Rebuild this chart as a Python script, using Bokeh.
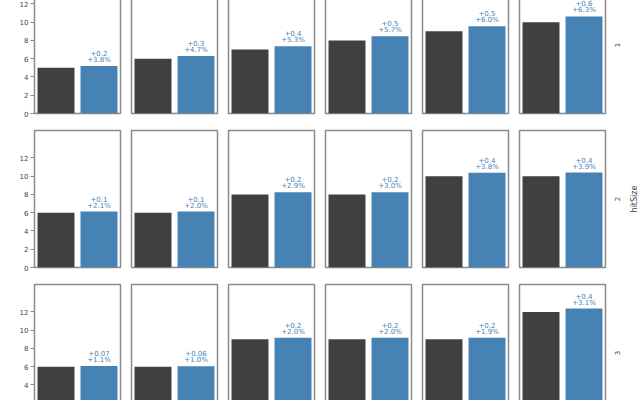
from bokeh.plotting import figure
from bokeh.layouts import gridplot
from bokeh.models import FactorRange, Range1d, FixedTicker
from bokeh.core.properties import value
from bokeh.embed import file_html
from bokeh.resources import INLINE

# ---- data ----
row_labels = ["1", "2", "3"]          # hitSize facet
facet_title = "hitSize"
series = ["before", "after"]
base_values = [
    [5, 6, 7, 8, 9, 10],
    [6, 6, 8, 8, 10, 10],
    [6, 6, 9, 9, 9, 12],
]
pct_change = [
    [3.8, 4.7, 5.3, 5.7, 6.0, 6.3],
    [2.1, 2.0, 2.9, 3.0, 3.8, 3.9],
    [1.1, 1.0, 2.0, 2.0, 1.9, 3.1],
]
y_ticks = [0, 2, 4, 6, 8, 10, 12]
y_max = 15

# ---- style ----
FONT = "DejaVu Sans"
DARK = "#404040"
BLUE = "#4682b4"
BORDER = "#8a8a8a"
TEXT = "#444444"
FW, FH = 86, 137

rows = []
for r, (bases, pcts) in enumerate(zip(base_values, pct_change)):
    row = []
    for c, (b, pc) in enumerate(zip(bases, pcts)):
        new = b * (1 + pc / 100.0)
        delta = new - b
        p = figure(
            x_range=FactorRange(factors=series, range_padding=0),
            y_range=Range1d(0, y_max),
            frame_width=FW, frame_height=FH,
            min_border_left=34 if c == 0 else 6, min_border_right=5,
            min_border_top=8, min_border_bottom=9,
            x_axis_location=None,
            y_axis_location="left" if c == 0 else None,
            toolbar_location=None, output_backend="svg",
        )
        p.xgrid.visible = False
        p.ygrid.visible = False
        p.outline_line_color = BORDER
        p.outline_line_width = 1.5
        p.background_fill_color = "white"
        p.border_fill_color = "white"
        if c == 0:
            ax = p.yaxis[0]
            ax.ticker = FixedTicker(ticks=y_ticks)
            ax.axis_line_color = None
            ax.major_tick_in = 0
            ax.major_tick_out = 4
            ax.major_tick_line_color = BORDER
            ax.minor_tick_line_color = None
            ax.major_label_standoff = 2
            ax.major_label_text_font = FONT
            ax.major_label_text_font_size = "7px"
            ax.major_label_text_color = TEXT
        p.vbar(x=series, top=[b, new], width=0.86,
               fill_color=[DARK, BLUE], line_color=None)
        p.text(x=[series[1]], y=[new], text=[f"+{pc:.1f}%"],
               text_align="center", text_baseline="bottom", y_offset=-2,
               text_font=value(FONT), text_font_size="7px", text_color=BLUE)
        p.text(x=[series[1]], y=[new], text=[f"+{delta:.1g}"],
               text_align="center", text_baseline="bottom", y_offset=-10,
               text_font=value(FONT), text_font_size="7px", text_color=BLUE)
        row.append(p)
    # facet label strip on the right
    q = figure(x_range=Range1d(0, 1), y_range=Range1d(0, y_max),
               frame_width=28, frame_height=FH,
               min_border_left=0, min_border_right=0,
               min_border_top=8, min_border_bottom=9,
               x_axis_location=None, y_axis_location=None,
               toolbar_location=None, output_backend="svg")
    q.xgrid.visible = False
    q.ygrid.visible = False
    q.outline_line_color = None
    q.text(x=[0.24], y=[y_max / 2], text=[row_labels[r]], angle=1.5708,
           text_align="center", text_baseline="middle",
           text_font=value(FONT), text_font_size="7px", text_color=TEXT)
    if r == 1:
        q.text(x=[0.86], y=[y_max / 2], text=[facet_title], angle=1.5708,
               text_align="center", text_baseline="middle",
               text_font=value(FONT), text_font_size="8px", text_color=TEXT)
    row.append(q)
    rows.append(row)

grid = gridplot(rows, toolbar_location=None)
grid.spacing = 0
grid.styles = {"margin-top": "-32px"}

open("out.html", "w").write(file_html(grid, INLINE))
